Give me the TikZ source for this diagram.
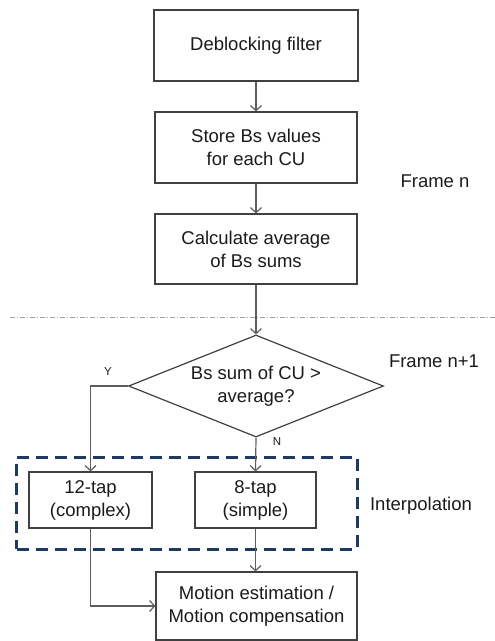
\documentclass[tikz,border=0pt]{standalone}
\usepackage{fontspec}
\setmainfont{Liberation Sans}
\usetikzlibrary{shapes.geometric,arrows.meta}
\definecolor{boxline}{HTML}{404040}
\definecolor{arrowline}{HTML}{5E5E5E}
\definecolor{navy}{HTML}{1F3A60}
\definecolor{txt}{HTML}{1A1A1A}
\tikzset{
  mainfont/.style={font=\fontsize{18.5bp}{23bp}\selectfont, text=txt},
  procbox/.style={draw=boxline, line width=1.2bp, rectangle, inner sep=0pt, align=center, mainfont},
  decbox/.style={draw=boxline, line width=1.2bp, shape=diamond, aspect=2.5, inner sep=0pt,
     minimum width=255bp, minimum height=102bp, align=center, mainfont},
  flow/.style={draw=arrowline, line width=1.2bp, -{Straight Barb[length=5bp,width=11bp,line width=1.2bp]}},
  plainline/.style={draw=arrowline, line width=1.2bp},
  lbl/.style={mainfont, anchor=base, inner sep=0pt},
  small/.style={font=\fontsize{11.5bp}{14bp}\selectfont, text=txt, anchor=base, inner sep=0pt},
  groupbox/.style={draw=navy, line width=3bp, dash pattern=on 12bp off 7bp, rectangle, inner sep=0pt},
  sepline/.style={draw=gray!75, line width=0.8bp, dash pattern=on 5bp off 2bp on 1bp off 2bp}
}
\begin{document}
\begin{tikzpicture}[x=1bp,y=-1bp]
\useasboundingbox (0,0) rectangle (495,641);
% separator
\coordinate (sepL) at (10,317);
\coordinate (sepR) at (495,317);
\draw[sepline] (sepL) -- (sepR);
% group
\node[groupbox, minimum width=340bp, minimum height=92bp] (grp) at (187,503) {};
% boxes
\node[procbox, minimum width=204bp, minimum height=71bp] (b1) at (256,45.5) {Deblocking filter};
\node[procbox, minimum width=202bp, minimum height=71bp] (b2) at (256,147.5) {Store Bs values\\for each CU};
\node[procbox, minimum width=202bp, minimum height=70bp] (b3) at (256,249) {Calculate average\\of Bs sums};
\node[decbox] (d) at (256,386) {Bs sum of CU >\\average?};
\node[procbox, minimum width=123bp, minimum height=56bp] (t12) at (90.5,500) {12-tap\\(complex)};
\node[procbox, minimum width=121bp, minimum height=56bp] (t8) at (255.5,500) {8-tap\\(simple)};
\node[procbox, minimum width=201bp, minimum height=68bp] (me) at (256.5,606) {Motion estimation /\\Motion compensation};
% labels
\node[lbl] (fn) at (435,188) {Frame n};
\node[lbl] (fn1) at (434,367) {Frame n+1};
\node[lbl] (interp) at (421,510) {Interpolation};
\node[small] (ylab) at (108,375) {Y};
\node[small] (nlab) at (277,445) {N};
% connectors
\draw[flow] (b1) -- (b2);
\draw[flow] (b2) -- (b3);
\draw[flow] (b3) -- (d);
\coordinate (ycorner) at (t12.north |- d.west);
\draw[flow] (d.west) -- (ycorner) -- (t12.north);
\draw[flow] (d.south) -- (t8.north);
\draw[flow] (t8.south) -- (t8.south |- me.north);
\draw[flow] (t12.south) |- (me.west);
\end{tikzpicture}
\end{document}
